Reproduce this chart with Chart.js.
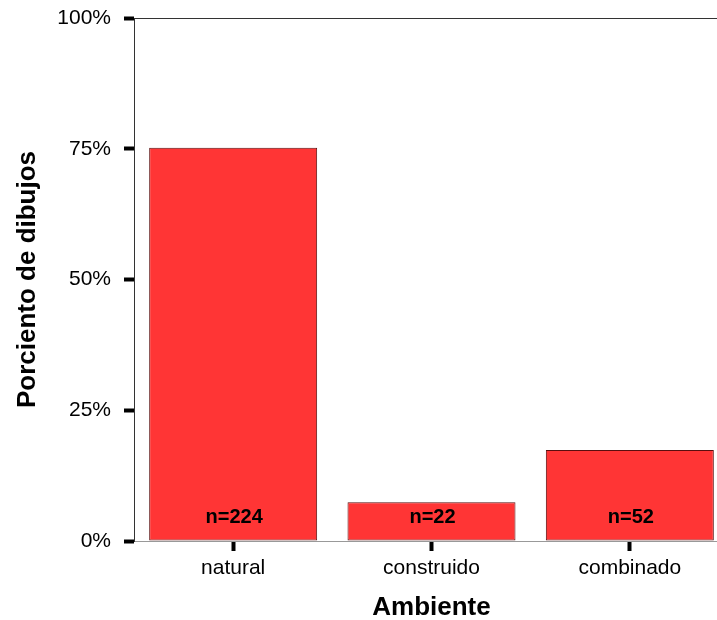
<!DOCTYPE html>
<html>
<head>
<meta charset="utf-8">
<script src="https://cdn.jsdelivr.net/npm/chart.js@4/dist/chart.umd.min.js"></script>
<style>
  html, body { margin: 0; padding: 0; background: #fff; overflow: hidden; }
  #wrap { width: 731px; height: 620px; }
</style>
</head>
<body>
<div id="wrap"><canvas id="mycanvas"></canvas></div>
<script>
  //chart data
  var ambiente = ['natural', 'construido', 'combinado'];
  var porciento = [75.2, 7.4, 17.4];
  var nDibujos = [224, 22, 52];
  var yTicks = [0, 25, 50, 75, 100];

  Chart.defaults.font.family = "'Liberation Sans', Arial, sans-serif";
  Chart.defaults.color = '#000';

  //n= labels inside the bars
  var nLabels = {
    id: 'nLabels',
    afterDatasetsDraw: function(chart) {
      var ctx = chart.ctx;
      var yScale = chart.scales.y;
      var bars = chart.getDatasetMeta(0).data;
      ctx.save();
      ctx.font = "bold 20px 'Liberation Sans', Arial, sans-serif";
      ctx.fillStyle = '#000';
      ctx.textAlign = 'center';
      ctx.textBaseline = 'middle';
      for (var i = 0; i < bars.length; i++) {
        ctx.fillText('n=' + nDibujos[i], bars[i].x + 1, yScale.bottom - 24);
      }
      ctx.restore();
    }
  };

  var ctx = document.getElementById('mycanvas').getContext('2d');
  var mychart = new Chart(ctx, {
    type: 'bar',
    data: {
      labels: ambiente,
      datasets: [
        {
          label: 'Porciento de dibujos',
          backgroundColor: '#ff3535',
          borderColor: '#5a0e0e',
          borderWidth: 1,
          borderSkipped: false,
          barPercentage: 0.847,
          categoryPercentage: 1,
          data: porciento
        }
      ]
    },
    plugins: [nLabels],
    options: {
      responsive: true,
      maintainAspectRatio: false,
      animation: false,
      layout: { padding: { top: 18, right: 2, left: 0, bottom: 0 } },
      plugins: {
        legend: { display: false },
        tooltip: { enabled: false }
      },
      scales: {
        x: {
          offset: true,
          afterFit: function(scale) { scale.height = 79; },
          border: { color: '#999', width: 1 },
          grid: {
            offset: false,
            drawOnChartArea: false,
            tickLength: 10,
            tickWidth: 4,
            tickColor: '#000'
          },
          ticks: { padding: 5, font: { size: 21 } },
          title: {
            display: true,
            text: 'Ambiente',
            font: { size: 26, weight: 'bold', lineHeight: 0.9 },
            padding: { top: 0, bottom: 0 }
          }
        },
        y: {
          min: 0,
          max: 100,
          afterFit: function(scale) {
            scale.width = 134;
            scale.paddingTop = 0;
            scale.paddingBottom = 0;
          },
          afterBuildTicks: function(scale) {
            scale.ticks = yTicks.map(function(v) { return { value: v }; });
          },
          border: { color: '#333', width: 1 },
          grid: {
            color: function(c) { return c.tick && c.tick.value === 100 ? '#333' : 'rgba(0,0,0,0)'; },
            tickLength: 10,
            tickWidth: 4,
            tickColor: '#000'
          },
          ticks: {
            padding: 13,
            font: { size: 21 },
            callback: function(v) { return v + '%'; }
          },
          title: {
            display: true,
            text: 'Porciento de dibujos',
            font: { size: 26, weight: 'bold', lineHeight: 1 },
            padding: { top: 15, bottom: 0 }
          }
        }
      }
    }
  });
</script>
</body>
</html>
